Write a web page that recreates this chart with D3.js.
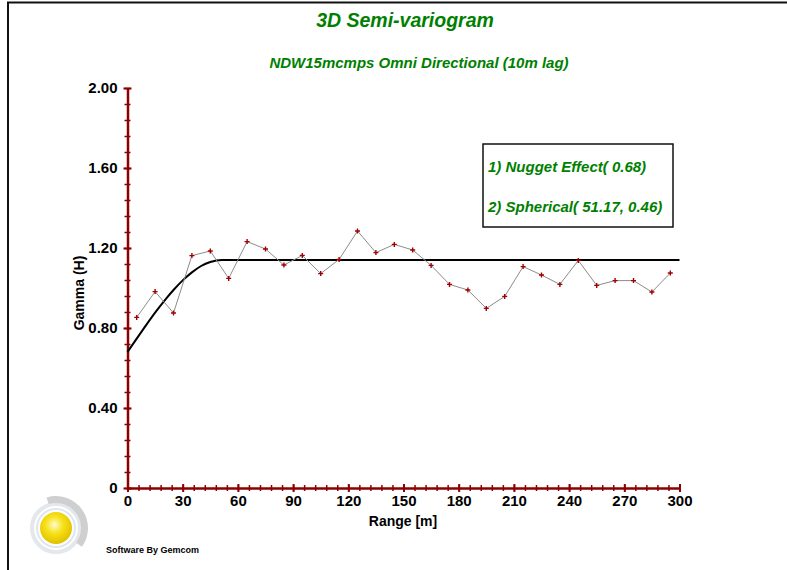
<!DOCTYPE html>
<html>
<head>
<meta charset="utf-8">
<script src="https://cdn.jsdelivr.net/npm/d3@7"></script>
<style>
  body { margin: 0; background: #fff; }
  svg { display: block; font-family: Arial, "Liberation Sans", sans-serif; }
</style>
</head>
<body>
<div class="vis"></div>
<script>
// semi-variogram chart

// data
const LAGS = [5, 15, 25, 35, 45, 55, 65, 75, 85, 95, 105, 115, 125, 135, 145,
              155, 165, 175, 185, 195, 205, 215, 225, 235, 245, 255, 265, 275, 285, 295];
const GAMMA = [0.853, 0.982, 0.875, 1.162, 1.185, 1.048, 1.232, 1.195, 1.115, 1.163,
               1.072, 1.143, 1.285, 1.177, 1.218, 1.190, 1.113, 1.018, 0.990, 0.898,
               0.958, 1.107, 1.065, 1.018, 1.138, 1.013, 1.037, 1.037, 0.980, 1.075];

// fitted model curve (nugget 0.68 + spherical 51.17 / 0.46)
const MODEL_RANGE = [0, 5, 10, 15, 20, 25, 30, 35, 40, 45, 51.17, 300];
const MODEL_GAMMA = [0.68, 0.747, 0.813, 0.877, 0.936, 0.990, 1.038, 1.078, 1.110, 1.130, 1.14, 1.14];

const X_TICKS = [0, 30, 60, 90, 120, 150, 180, 210, 240, 270, 300];
const X_TICK_LABELS = ["0", "30", "60", "90", "120", "150", "180", "210", "240", "270", "300"];
const Y_TICKS = [0, 0.4, 0.8, 1.2, 1.6, 2.0];
const Y_TICK_LABELS = ["0", "0.40", "0.80", "1.20", "1.60", "2.00"];
const X_MINOR = d3.range(0, 301, 6);
const Y_MINOR = d3.range(0, 2.0001, 0.08);

const LEGEND_LINES = ["1) Nugget Effect( 0.68)", "2) Spherical( 51.17, 0.46)"];

const FRAME_WIDTH = 787;
const FRAME_HEIGHT = 570;
const MARGINS = {left: 127.5, right: 107.5, top: 88, bottom: 82};

const AXIS_RED = "#8b0000";
const GREEN = "#008000";

const FRAME = d3.select(".vis")
    .append("svg")
      .attr("width", FRAME_WIDTH)
      .attr("height", FRAME_HEIGHT);

FRAME.append("rect")
    .attr("width", FRAME_WIDTH)
    .attr("height", FRAME_HEIGHT)
    .attr("fill", "#fff");

// outer frame lines (top + left)
FRAME.append("path")
    .attr("d", "M8,570 L8,2.5 L787,2.5")
    .attr("fill", "none")
    .attr("stroke", "#111")
    .attr("stroke-width", 2);

const X_SCALE = d3.scaleLinear()
    .domain([0, 300])
    .range([MARGINS.left, FRAME_WIDTH - MARGINS.right]);

const Y_SCALE = d3.scaleLinear()
    .domain([0, 2.0])
    .range([FRAME_HEIGHT - MARGINS.bottom, MARGINS.top]);

// titles
FRAME.append("text")
    .attr("x", 405).attr("y", 27)
    .attr("text-anchor", "middle")
    .attr("font-size", "19.5px").attr("font-weight", "bold").attr("font-style", "italic")
    .attr("fill", GREEN)
    .text("3D Semi-variogram");

FRAME.append("text")
    .attr("x", 419).attr("y", 68)
    .attr("text-anchor", "middle")
    .attr("font-size", "15px").attr("font-weight", "bold").attr("font-style", "italic")
    .attr("fill", GREEN)
    .text("NDW15mcmps Omni Directional (10m lag)");

// minor ticks
const xMinor = FRAME.append("g")
    .attr("transform", "translate(0," + Y_SCALE(0) + ")")
    .call(d3.axisBottom(X_SCALE).tickValues(X_MINOR).tickFormat("").tickSizeOuter(0));
xMinor.selectAll(".tick line").attr("y1", -3).attr("y2", 3)
    .attr("stroke", AXIS_RED).attr("stroke-width", 1.5);
xMinor.select(".domain").remove();

const yMinor = FRAME.append("g")
    .attr("transform", "translate(" + X_SCALE(0) + ",0)")
    .call(d3.axisLeft(Y_SCALE).tickValues(Y_MINOR).tickFormat("").tickSizeOuter(0));
yMinor.selectAll(".tick line").attr("x1", -3).attr("x2", 3)
    .attr("stroke", AXIS_RED).attr("stroke-width", 1.5);
yMinor.select(".domain").remove();

// major axes
const xAxis = FRAME.append("g")
    .attr("transform", "translate(0," + Y_SCALE(0) + ")")
    .call(d3.axisBottom(X_SCALE)
        .tickValues(X_TICKS)
        .tickFormat((d, i) => X_TICK_LABELS[i])
        .tickSizeOuter(0));
xAxis.select(".domain").attr("stroke", AXIS_RED).attr("stroke-width", 2.5);
xAxis.selectAll(".tick line").attr("y1", -4).attr("y2", 4)
    .attr("stroke", AXIS_RED).attr("stroke-width", 2);
xAxis.selectAll(".tick text")
    .attr("y", 5).attr("dy", "0.85em")
    .attr("font-size", "15px").attr("font-weight", "bold").attr("fill", "#000");

const yAxis = FRAME.append("g")
    .attr("transform", "translate(" + X_SCALE(0) + ",0)")
    .call(d3.axisLeft(Y_SCALE)
        .tickValues(Y_TICKS)
        .tickFormat((d, i) => Y_TICK_LABELS[i])
        .tickSizeOuter(0));
yAxis.select(".domain").attr("stroke", AXIS_RED).attr("stroke-width", 2.5);
yAxis.selectAll(".tick line").attr("x1", -4).attr("x2", 4)
    .attr("stroke", AXIS_RED).attr("stroke-width", 2);
yAxis.selectAll(".tick text")
    .attr("x", -10)
    .attr("font-size", "15px").attr("font-weight", "bold").attr("fill", "#000");

// axis titles
FRAME.append("text")
    .attr("x", 403).attr("y", 526)
    .attr("text-anchor", "middle")
    .attr("font-size", "14px").attr("font-weight", "bold")
    .text("Range [m]");

FRAME.append("text")
    .attr("transform", "translate(84,293) rotate(-90)")
    .attr("text-anchor", "middle")
    .attr("font-size", "14px").attr("font-weight", "bold")
    .text("Gamma (H)");

// model curve
const modelData = MODEL_RANGE.map((h, i) => ({h: h, g: MODEL_GAMMA[i]}));
FRAME.append("path")
    .datum(modelData)
    .attr("fill", "none")
    .attr("stroke", "#000")
    .attr("stroke-width", 2)
    .attr("d", d3.line()
        .x((d) => X_SCALE(d.h))
        .y((d) => Y_SCALE(d.g))
        .curve(d3.curveMonotoneX));

// experimental points
const expData = LAGS.map((h, i) => ({h: h, g: GAMMA[i]}));
FRAME.append("path")
    .datum(expData)
    .attr("fill", "none")
    .attr("stroke", "#8c8c8c")
    .attr("stroke-width", 1)
    .attr("d", d3.line()
        .x((d) => X_SCALE(d.h))
        .y((d) => Y_SCALE(d.g)));

FRAME.selectAll(".pt")
    .data(expData)
    .enter().append("path")
    .attr("class", "pt")
    .attr("transform", (d) => "translate(" + X_SCALE(d.h) + "," + Y_SCALE(d.g) + ")")
    .attr("d", "M-2.5,0 L2.5,0 M0,-2.5 L0,2.5")
    .attr("stroke", "#a00000")
    .attr("stroke-width", 1.4);

// legend box
const legend = FRAME.append("g");
legend.append("rect")
    .attr("x", 483).attr("y", 144)
    .attr("width", 190).attr("height", 83)
    .attr("fill", "#fff")
    .attr("stroke", "#111")
    .attr("stroke-width", 1.5);
legend.selectAll("text")
    .data(LEGEND_LINES)
    .enter().append("text")
    .attr("x", 488)
    .attr("y", (d, i) => 172 + i * 40)
    .attr("font-size", "15px").attr("font-weight", "bold").attr("font-style", "italic")
    .attr("fill", GREEN)
    .text((d) => d);

// logo
const logo = FRAME.append("g").attr("transform", "translate(56,528)");
const defs = FRAME.append("defs");
const grad = defs.append("radialGradient").attr("id", "ball")
    .attr("cx", "45%").attr("cy", "40%").attr("r", "60%");
grad.append("stop").attr("offset", "0%").attr("stop-color", "#fffbd0");
grad.append("stop").attr("offset", "45%").attr("stop-color", "#f7e21a");
grad.append("stop").attr("offset", "100%").attr("stop-color", "#e0c000");
logo.append("circle").attr("r", 24).attr("fill", "none")
    .attr("stroke", "#e4e8ec").attr("stroke-width", 4);
logo.append("path")
    .attr("d", d3.arc().innerRadius(25).outerRadius(32).startAngle(-0.3).endAngle(2.2)())
    .attr("fill", "#cfcfcf");
logo.append("circle").attr("r", 19).attr("fill", "none")
    .attr("stroke", "#dfe6ee").attr("stroke-width", 2);
logo.append("circle").attr("r", 16).attr("fill", "url(#ball)");

FRAME.append("text")
    .attr("x", 106).attr("y", 553)
    .attr("font-size", "9px").attr("font-weight", "bold")
    .text("Software By Gemcom");
</script>
</body>
</html>
